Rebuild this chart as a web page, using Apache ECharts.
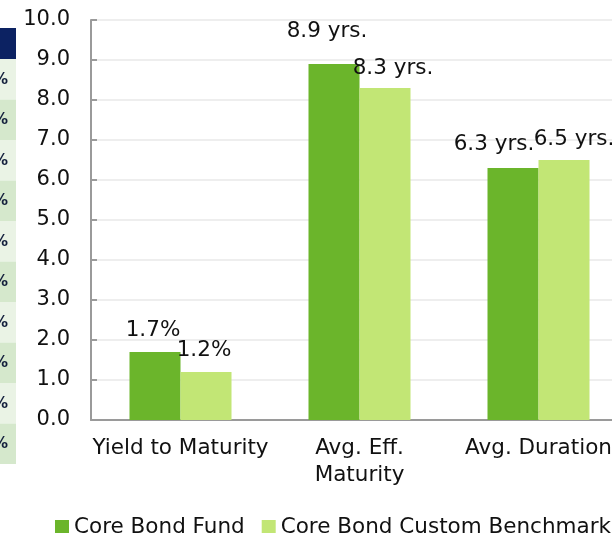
<!DOCTYPE html>
<html>
<head>
<meta charset="utf-8">
<script src="https://cdn.jsdelivr.net/npm/echarts@6/dist/echarts.min.js"></script>
<style>
  html, body { margin: 0; padding: 0; background: #fff; }
  #chart { width: 612px; height: 533px; }
</style>
</head>
<body>
<div id="chart"></div>
<script>
const categories = ['Yield to Maturity', 'Avg. Eff.\nMaturity', 'Avg. Duration']
const fundValues = [1.7, 8.9, 6.3]
const benchValues = [1.2, 8.3, 6.5]
const units = ['%', ' yrs.', ' yrs.']
const seriesNames = ['Core Bond Fund', 'Core Bond Custom Benchmark']

const fundColor = '#6bb52b'
const benchColor = '#c2e675'
const font = 'DejaVu Sans, Verdana, sans-serif'

// label nudges so overlapping labels sit like the original
const fundOffsets = [[-2, 0], [-7, -11], [-19, -2]]
const benchOffsets = [[-2, 0], [8, 2], [10, 1]]

function makeData(values, offsets) {
  return values.map((v, i) => ({
    value: v,
    label: {
      offset: offsets[i],
      formatter: () => v.toFixed(1) + units[i]
    }
  }))
}

// partial table strip at the left edge
const strip = [{
  type: 'rect',
  shape: { x: 0, y: 28, width: 16, height: 31 },
  style: { fill: '#0c2262' }
}]
for (let i = 0; i < 10; i++) {
  const y = 59 + i * 40.5
  strip.push({
    type: 'rect',
    shape: { x: 0, y: y, width: 16, height: 40.5 },
    style: { fill: i % 2 === 0 ? '#eaf3e5' : '#d5e8cc' }
  })
  strip.push({
    type: 'text',
    x: 8,
    y: y + 21,
    style: {
      text: '%', align: 'right', verticalAlign: 'middle',
      fontSize: 15, fontWeight: 'bold', fontFamily: font, fill: '#14203d'
    }
  })
}

const chart = echarts.init(document.getElementById('chart'))
chart.setOption({
  animation: false,
  textStyle: { fontFamily: font },
  graphic: strip,
  grid: { left: 91, right: -16, top: 20, bottom: 113, outerBoundsMode: 'none', containLabel: false },
  legend: {
    left: 50,
    top: 511,
    width: 620,
    itemWidth: 14,
    itemHeight: 14,
    itemGap: 17,
    icon: 'rect',
    textStyle: { fontSize: 21.5, color: '#111', fontFamily: font },
    data: seriesNames
  },
  xAxis: {
    type: 'category',
    data: categories,
    axisLine: { lineStyle: { color: '#9a9a9a', width: 2 } },
    axisTick: { length: 6, lineStyle: { color: '#9a9a9a', width: 2 } },
    axisLabel: {
      fontSize: 21.5, color: '#111', margin: 15, lineHeight: 27,
      interval: 0, fontFamily: font
    }
  },
  yAxis: {
    type: 'value',
    min: 0,
    max: 10,
    interval: 1,
    axisLine: { show: true, lineStyle: { color: '#9a9a9a', width: 2 } },
    axisTick: { show: true, inside: true, length: 6, lineStyle: { color: '#9a9a9a', width: 2 } },
    splitLine: { lineStyle: { color: '#eeeeee', width: 2 } },
    axisLabel: {
      fontSize: 21, color: '#111', margin: 21, fontFamily: font,
      formatter: v => v.toFixed(1)
    }
  },
  series: [
    {
      name: seriesNames[0],
      type: 'bar',
      barWidth: 51,
      barGap: 0,
      itemStyle: { color: fundColor },
      label: { show: true, position: 'top', distance: 11, fontSize: 21.5, color: '#111', fontFamily: font },
      data: makeData(fundValues, fundOffsets)
    },
    {
      name: seriesNames[1],
      type: 'bar',
      barWidth: 51,
      barGap: 0,
      itemStyle: { color: benchColor },
      label: { show: true, position: 'top', distance: 11, fontSize: 21.5, color: '#111', fontFamily: font },
      data: makeData(benchValues, benchOffsets)
    }
  ]
})
</script>
</body>
</html>
